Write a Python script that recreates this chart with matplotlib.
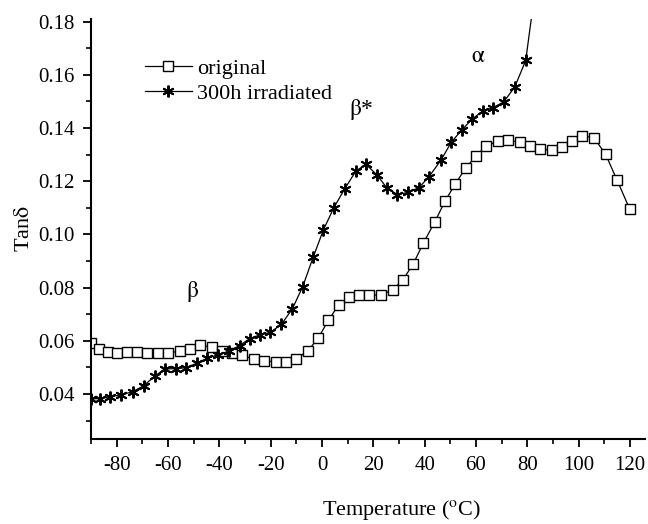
import matplotlib
matplotlib.use("Agg")
import matplotlib.pyplot as plt
from matplotlib.ticker import MultipleLocator, FormatStrFormatter

plt.rcParams["font.family"] = ["Liberation Serif", "DejaVu Serif"]
plt.rcParams["mathtext.fontset"] = "stix"
plt.rcParams["axes.unicode_minus"] = False

# original sample
orig_temp = [-90, -87, -83.5, -80, -76, -72, -68, -64, -60, -55.5, -51.5, -47.5,
             -43, -39, -35, -31, -26.5, -22.5, -18, -14, -10, -5.5, -1.5, 2.5,
             6.5, 10.5, 14.5, 18.5, 23, 27.5, 31.5, 35.5, 39.5, 44, 48, 52, 56,
             60, 64, 68.5, 72.5, 77, 81, 85, 89.5, 93.5, 97.5, 101.5, 106,
             110.5, 115, 120]
orig_tan = [0.0593, 0.0568, 0.0559, 0.0554, 0.0558, 0.0559, 0.0554, 0.0553,
            0.0553, 0.0562, 0.0570, 0.0583, 0.0577, 0.0562, 0.0553, 0.0545,
            0.0531, 0.0524, 0.0521, 0.0522, 0.0533, 0.0562, 0.0610, 0.0677,
            0.0735, 0.0765, 0.0773, 0.0771, 0.0773, 0.0791, 0.0829, 0.0888,
            0.0967, 0.1048, 0.1126, 0.1191, 0.1249, 0.1295, 0.1332, 0.1351,
            0.1355, 0.1347, 0.1333, 0.1320, 0.1317, 0.1329, 0.1350, 0.1371,
            0.1363, 0.1302, 0.1204, 0.1094]

# 300h irradiated sample
irr_temp = [-90, -86.4, -82.5, -78.2, -73.7, -69.5, -65.2, -61.2, -57, -53.1,
            -48.7, -44.7, -40.5, -36.4, -32.1, -28.2, -24, -20.1, -15.8, -11.5,
            -7.5, -3.4, 0.6, 4.6, 8.9, 13.2, 17.1, 21.3, 25.3, 29.4, 33.5, 37.8,
            41.7, 46.5, 50.4, 54.6, 58.6, 62.8, 66.7, 70.8, 75.1, 79.4, 83.5]
irr_tan = [0.0382, 0.0383, 0.0390, 0.0397, 0.0409, 0.0431, 0.0467, 0.0495,
           0.0495, 0.0499, 0.0516, 0.0534, 0.0548, 0.0561, 0.0582, 0.0608,
           0.0623, 0.0632, 0.0662, 0.0721, 0.0804, 0.0915, 0.1018, 0.1100,
           0.1172, 0.1238, 0.1264, 0.1225, 0.1175, 0.1150, 0.1158, 0.1176,
           0.1217, 0.1281, 0.1347, 0.1394, 0.1435, 0.1464, 0.1477, 0.1498,
           0.1554, 0.1654, 0.1950]

labels = ["original", "300h irradiated"]

fig = plt.figure(figsize=(6.48, 5.24), dpi=100)
ax = fig.add_axes([91 / 648, 1 - 439 / 524, 554.3 / 648, 420 / 524])

ax.plot(orig_temp, orig_tan, color="black", lw=0.9, marker="s", ms=6.5,
        mfc="white", mec="black", mew=1.0, label=labels[0])
ax.plot(irr_temp, irr_tan, color="black", lw=0.9, marker=(6, 2, 0), ms=8.5,
        mec="black", mew=1.4, label=labels[1])

ax.set_xlim(-90, 126)
ax.set_ylim(0.0231, 0.181)

ax.xaxis.set_major_locator(MultipleLocator(20))
ax.xaxis.set_minor_locator(MultipleLocator(10))
ax.yaxis.set_major_locator(MultipleLocator(0.02))
ax.yaxis.set_minor_locator(MultipleLocator(0.01))
ax.yaxis.set_major_formatter(FormatStrFormatter("%.2f"))

for side in ["top", "right"]:
    ax.spines[side].set_visible(False)
for side in ["left", "bottom"]:
    ax.spines[side].set_linewidth(1.5)

ax.tick_params(which="major", direction="out", length=6, width=1.3,
               labelsize=15, pad=6)
ax.tick_params(which="minor", direction="out", length=3.5, width=1.2)

ax.set_xlabel(r"Temperature ($^{\mathrm{o}}$C)", fontsize=16)
ax.set_ylabel(r"Tan$\mathrm{\delta}$", fontsize=16)
ax.xaxis.set_label_coords(0.561, -0.14)
ax.yaxis.set_label_coords(-0.103, 0.5)

ax.text(-50.3, 0.0785, r"$\mathrm{\beta}$", fontsize=17, ha="center", va="center")
ax.text(15.4, 0.1468, r"$\mathrm{\beta}$*", fontsize=17, ha="center", va="center")
ax.text(60.8, 0.1669, r"$\mathrm{\alpha}$", fontsize=17, ha="center", va="center")

ax.legend(loc="upper left", bbox_to_anchor=(145 / 648, 1 - 58 / 524),
          bbox_transform=fig.transFigure, frameon=False, fontsize=16,
          handlelength=2.1, handletextpad=0.25, labelspacing=0.2,
          borderpad=0, borderaxespad=0)

fig.savefig("out.png", dpi=100)
